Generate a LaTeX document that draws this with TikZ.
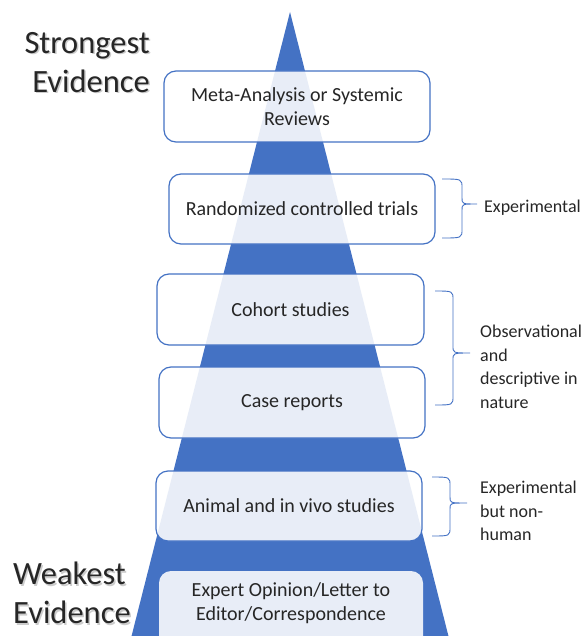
\documentclass[tikz,border=0pt]{standalone}
\usepackage{fontspec}
\setmainfont{Carlito}
\definecolor{pyblue}{HTML}{4472C4}
\definecolor{txt}{HTML}{262626}
\begin{document}
\begin{tikzpicture}[x=1pt,y=-1pt,
  levelbox/.style={rounded corners=12pt, fill=white, fill opacity=0.88, draw=pyblue, draw opacity=1, line width=1.2pt},
  plainbox/.style={rounded corners=12pt, fill=white, fill opacity=0.88},
  boxtext/.style={text=txt, font=\fontsize{20}{23.5}\selectfont, align=center, inner sep=0pt},
  sidetext/.style={text=txt, font=\fontsize{18}{23.5}\selectfont, align=left, anchor=west, inner sep=0pt},
  bigtext/.style={text=txt, font=\fontsize{32.5}{39}\selectfont, inner sep=0pt},
  bracepath/.style={draw=pyblue, line width=0.9pt}
]
\useasboundingbox (0,0) rectangle (586,636);
\clip (0,0) rectangle (586,636);
% pyramid
\fill[pyblue] (290,12) -- (452,650) -- (128,650) -- cycle;
% boxes
\path[levelbox] (164,71) rectangle (430,142);
\path[levelbox] (169,174) rectangle (435,244);
\path[levelbox] (157,274) rectangle (424,345);
\path[levelbox] (159,367) rectangle (425,438);
\path[levelbox] (156,471) rectangle (422,541);
\path[plainbox] (159,571) rectangle (423,660);
% texts
\node[boxtext] (meta) at (297,106.5) {Meta-Analysis or Systemic\\Reviews};
\node[boxtext] (rct) at (302,209) {Randomized controlled trials};
\node[boxtext] (cohort) at (290.5,309.5) {Cohort studies};
\node[boxtext] (case) at (292,402.5) {Case reports};
\node[boxtext] (animal) at (289,506) {Animal and in vivo studies};
\node[boxtext] (expert) at (291,603) {Expert Opinion/Letter to\\Editor/Correspondence};
% strongest / weakest
\node[bigtext, text=black!20, align=right, anchor=north east] at (151.5,33.5) {Strongest\\Evidence};
\node[bigtext, align=right, anchor=north east] (strong) at (150,32) {Strongest\\Evidence};
\node[bigtext, text=black!20, align=left, anchor=north west] at (14.5,563.5) {Weakest\\Evidence};
\node[bigtext, align=left, anchor=north west] (weak) at (13,562) {Weakest\\Evidence};
% braces
\coordinate (b1t) at (442,179);
\coordinate (b1b) at (442,238);
\draw[bracepath] (b1t) .. controls (462,179) and (462,179) .. (462,188) -- (462,198)
  .. controls (462,204) and (462,204) .. (477,204)
  .. controls (462,204) and (462,204) .. (462,210) -- (462,229)
  .. controls (462,238) and (462,238) .. (b1b);
\node[sidetext] (exp) at (484,208) {Experimental};
\coordinate (b2t) at (435,291);
\coordinate (b2b) at (435,405);
\draw[bracepath] (b2t) .. controls (453,291) and (453,291) .. (453,300) -- (453,346)
  .. controls (453,353) and (453,353) .. (470,353)
  .. controls (453,353) and (453,353) .. (453,360) -- (453,396)
  .. controls (453,405) and (453,405) .. (b2b);
\node[sidetext] (obs) at (480,367) {Observational\\and\\descriptive in\\nature};
\coordinate (b3t) at (432,477);
\coordinate (b3b) at (432,536);
\draw[bracepath] (b3t) .. controls (450,477) and (450,477) .. (450,486) -- (450,497)
  .. controls (450,503) and (450,503) .. (467,503)
  .. controls (450,503) and (450,503) .. (450,509) -- (450,527)
  .. controls (450,536) and (450,536) .. (b3b);
\node[sidetext] (nonhuman) at (480,511) {Experimental\\but non-\\human};
\end{tikzpicture}
\end{document}
